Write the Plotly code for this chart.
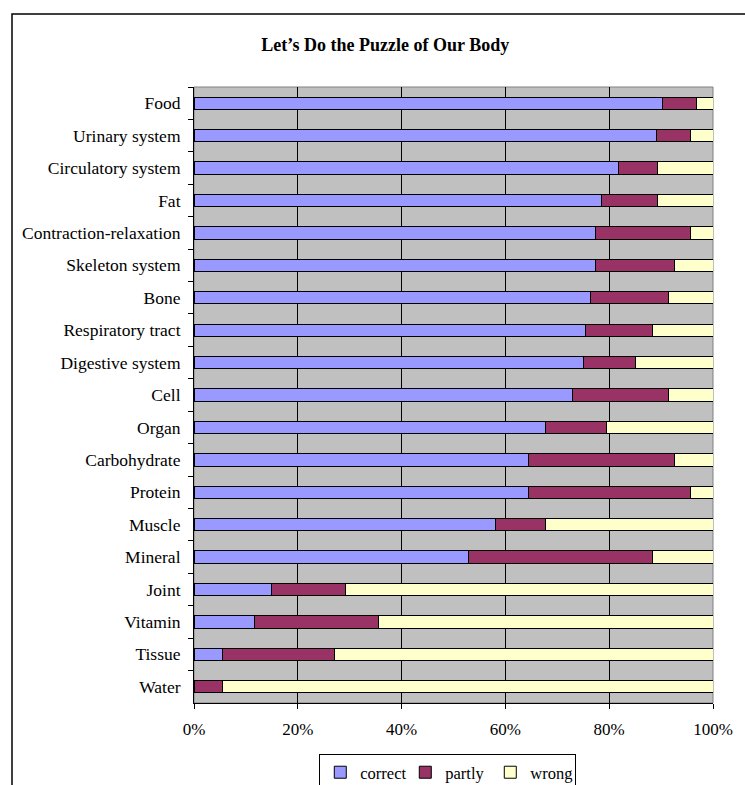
import plotly.graph_objects as go

# Topics, listed top to bottom
topics = [
    "Food", "Urinary system", "Circulatory system", "Fat",
    "Contraction-relaxation", "Skeleton system", "Bone", "Respiratory tract",
    "Digestive system", "Cell", "Organ", "Carbohydrate", "Protein", "Muscle",
    "Mineral", "Joint", "Vitamin", "Tissue", "Water",
]

# Share of answers per topic (%)
correct = [90.2, 89.2, 81.7, 78.5, 77.3, 77.3, 76.4, 75.4, 75.1, 73.0,
           67.8, 64.5, 64.5, 58.0, 52.8, 15.0, 11.7, 5.4, 0.0]
partly = [6.7, 6.5, 7.6, 10.8, 18.4, 15.3, 15.0, 12.9, 9.9, 18.4,
          11.7, 28.1, 31.2, 9.8, 35.5, 14.2, 23.9, 21.6, 5.4]
wrong = [3.1, 4.3, 10.7, 10.7, 4.3, 7.4, 8.6, 11.7, 15.0, 8.6,
         20.5, 7.4, 4.3, 32.2, 11.7, 70.8, 64.4, 73.0, 94.6]

x_ticks = [0, 20, 40, 60, 80, 100]
x_tick_labels = ["0%", "20%", "40%", "60%", "80%", "100%"]

series = [
    ("correct", correct, "#9999FF"),
    ("partly", partly, "#993366"),
    ("wrong", wrong, "#FFFFCC"),
]

FONT = "Liberation Serif, Times New Roman, serif"

fig = go.Figure()
for name, vals, color in series:
    fig.add_trace(go.Bar(
        name=name, x=vals, y=topics, orientation="h",
        marker=dict(color=color, line=dict(color="black", width=1)),
    ))

fig.update_layout(
    width=745, height=785,
    margin=dict(l=194, r=32, t=87, b=82),
    paper_bgcolor="white",
    plot_bgcolor="#C0C0C0",
    barmode="stack",
    bargap=0.62,
    font=dict(family=FONT, size=17, color="black"),
    title=dict(
        text="<b>Let’s Do the Puzzle of Our Body</b>",
        x=0.517, xanchor="center", y=1 - 45 / 785, yanchor="middle",
        font=dict(family=FONT, size=18, color="black"),
    ),
    legend=dict(
        orientation="h", xref="paper", x=0.489, xanchor="center",
        yref="container", y=(785 - 754) / 785, yanchor="top",
        bgcolor="white", bordercolor="black", borderwidth=1,
        font=dict(family=FONT, size=16.5, color="black"),
        itemwidth=30, entrywidth=40, traceorder="normal",
    ),
    showlegend=True,
    xaxis=dict(
        range=[0, 100], tickvals=x_ticks, ticktext=x_tick_labels,
        showgrid=True, gridcolor="black", gridwidth=1, zeroline=False,
        showline=True, linecolor="black", linewidth=1,
        ticks="outside", ticklen=5, tickcolor="black",
        ticklabelstandoff=6,
        tickfont=dict(family=FONT, size=17),
        fixedrange=True,
    ),
    yaxis=dict(
        autorange="reversed", type="category",
        showgrid=False, zeroline=False,
        showline=True, linecolor="black", linewidth=1,
        ticks="outside", ticklen=5, tickcolor="black", tickson="boundaries",
        ticklabelstandoff=9,
        tickfont=dict(family=FONT, size=17.5),
        fixedrange=True,
    ),
    shapes=[
        # plot area frame
        dict(type="rect", xref="paper", yref="paper", x0=0, x1=1, y0=0, y1=1,
             line=dict(color="#808080", width=1), layer="below"),
        # chart area border
        dict(type="rect", xref="paper", yref="paper",
             x0=(12 - 194) / 519, x1=1.3, y0=-0.2, y1=(703 - 14) / 616,
             line=dict(color="black", width=1.5)),
    ],
)

fig.write_html("out.html")
